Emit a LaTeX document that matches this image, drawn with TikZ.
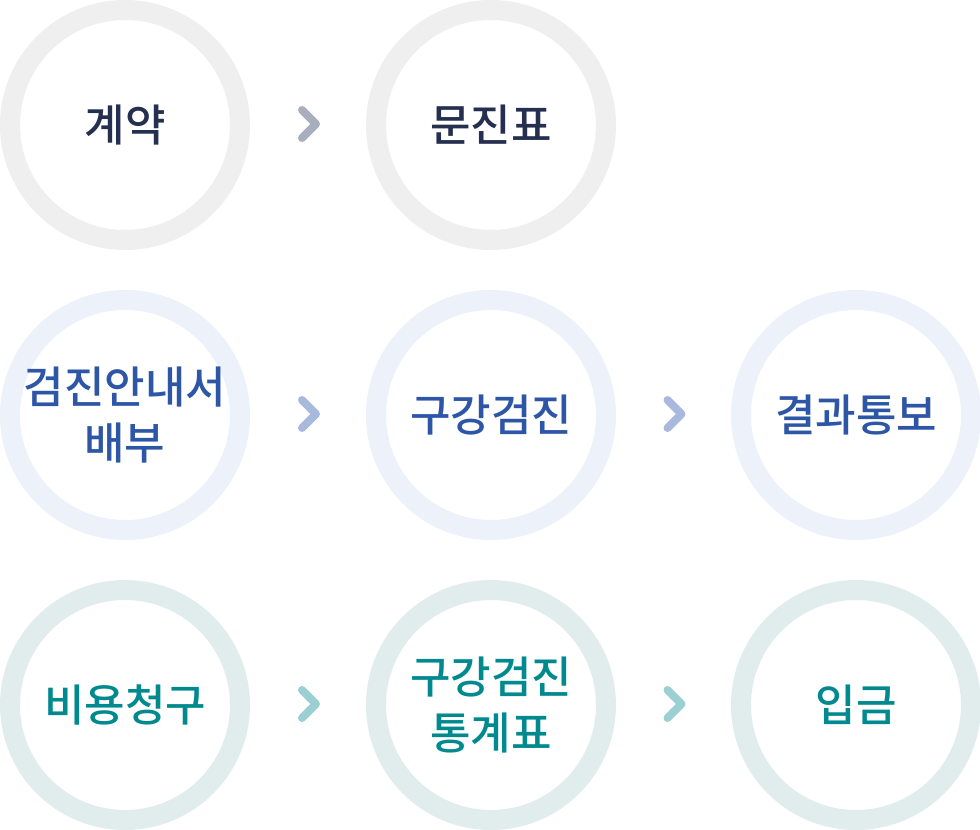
\documentclass[tikz,border=0pt]{standalone}
\usepackage{fontspec}
\newfontfamily\kr{Noto Sans CJK KR Medium}
\usetikzlibrary{calc}
\definecolor{ringA}{HTML}{EFEFEF}
\definecolor{textA}{HTML}{252F4F}
\definecolor{chevA}{HTML}{A9AEBE}
\definecolor{ringB}{HTML}{ECF1FA}
\definecolor{textB}{HTML}{2D56A7}
\definecolor{chevB}{HTML}{A9B9DD}
\definecolor{ringC}{HTML}{E1EDED}
\definecolor{textC}{HTML}{008A90}
\definecolor{chevC}{HTML}{9CCFD2}
\tikzset{
  ring/.style={circle, draw=#1, line width=20pt, minimum size=230pt, inner sep=0pt,
    align=center, font=\kr\fontsize{44}{56}\selectfont},
  chev/.style={draw=#1, line width=8pt, line cap=round, line join=round}
}
\begin{document}
\begin{tikzpicture}[x=1pt,y=-1pt]
\useasboundingbox[fill=white] (0,0) rectangle (980,830);
% row 1
\node[ring=ringA, text=textA] (a1) at (125,125) {계약};
\node[ring=ringA, text=textA] (a2) at (491,125) {문진표};
% row 2
\node[ring=ringB, text=textB] (b1) at (125,415) {검진안내서\\배부};
\node[ring=ringB, text=textB] (b2) at (491,415) {구강검진};
\node[ring=ringB, text=textB] (b3) at (856,415) {결과통보};
% row 3
\node[ring=ringC, text=textC] (c1) at (125,705) {비용청구};
\node[ring=ringC, text=textC] (c2) at (491,705) {구강검진\\통계표};
\node[ring=ringC, text=textC] (c3) at (856,705) {입금};
% chevrons
\draw[chev=chevA] ($(a1)!0.5!(a2)+(-6,-15)$) -- ++(14,14) -- ++(-14,14);
\draw[chev=chevB] ($(b1)!0.5!(b2)+(-6,-15)$) -- ++(14,14) -- ++(-14,14);
\draw[chev=chevB] ($(b2)!0.5!(b3)+(-6,-15)$) -- ++(14,14) -- ++(-14,14);
\draw[chev=chevC] ($(c1)!0.5!(c2)+(-6,-15)$) -- ++(14,14) -- ++(-14,14);
\draw[chev=chevC] ($(c2)!0.5!(c3)+(-6,-15)$) -- ++(14,14) -- ++(-14,14);
\end{tikzpicture}
\end{document}
